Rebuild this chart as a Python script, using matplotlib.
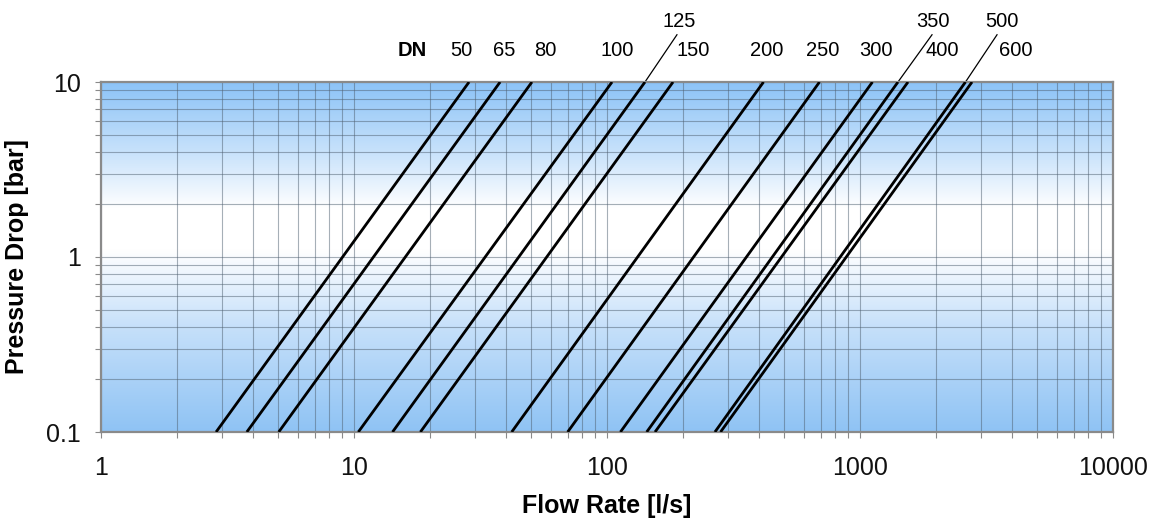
import numpy as np
import matplotlib.pyplot as plt
from matplotlib.colors import LinearSegmentedColormap
from matplotlib.ticker import FixedLocator, FixedFormatter, NullFormatter, LogLocator

plt.rcParams['font.family'] = ['Liberation Sans', 'DejaVu Sans']

# DN sizes and where each line crosses 0.1 bar and 10 bar (flow in l/s)
dn_sizes = ['50', '65', '80', '100', '125', '150', '200', '250', '300', '350', '400', '500', '600']
flow_at_min_dp = [2.85, 3.77, 5.04, 10.4, 14.2, 18.3, 42.0, 69.9, 113, 143.5, 154.8, 267, 281]
flow_at_max_dp = [28.5, 37.8, 50.5, 104.7, 141.3, 182.4, 415.6, 691.8, 1120, 1413, 1548, 2612, 2772]
dp_range = [0.1, 10]

# label placement (x in l/s), upper-row labels get a leader line
label_x = [26.5, 39.2, 56.9, 109.6, 192.6, 218.8, 429, 714, 1157, 1944, 2110, 3640, 4138]
upper_row = ['125', '350', '500']
leader_x = {'125': 189, '350': 1926, '500': 3480}

x_ticks = [1, 10, 100, 1000, 10000]
y_ticks = [0.1, 1, 10]

W, H = 1157, 528
fig = plt.figure(figsize=(W / 100, H / 100), dpi=100)
pos = [101 / W, 96 / H, 1012 / W, 350 / H]

# background gradient: blue top, white just above middle, blue bottom
bg = fig.add_axes(pos, zorder=0)
cmap = LinearSegmentedColormap.from_list(
    'bg', [(0.0, '#8fc3f4'), (0.3, '#c6e0fa'), (0.52, '#ffffff'),
           (0.64, '#ffffff'), (0.8, '#c8e2fb'), (1.0, '#8cc3f7')])
grad = np.linspace(0, 1, 256).reshape(-1, 1)
bg.imshow(grad, extent=[0, 1, 0, 1], origin='lower', aspect='auto', cmap=cmap)
bg.axis('off')

ax = fig.add_axes(pos, zorder=1)
ax.patch.set_visible(False)
ax.set_xscale('log')
ax.set_yscale('log')

for lo, hi in zip(flow_at_min_dp, flow_at_max_dp):
    ax.plot([lo, hi], dp_range, color='black', lw=2.0, solid_capstyle='butt', zorder=3)

ax.set_xlim(1, 10000)
ax.set_ylim(0.1, 10)

ax.xaxis.set_major_locator(FixedLocator(x_ticks))
ax.xaxis.set_major_formatter(FixedFormatter([f'{v:g}' for v in x_ticks]))
ax.yaxis.set_major_locator(FixedLocator(y_ticks))
ax.yaxis.set_major_formatter(FixedFormatter([f'{v:g}' for v in y_ticks]))
for axis in (ax.xaxis, ax.yaxis):
    axis.set_minor_locator(LogLocator(base=10, subs=np.arange(2, 10)))
    axis.set_minor_formatter(NullFormatter())

ax.grid(which='both', color='#4f6070', alpha=0.5, lw=0.8, zorder=1)
ax.tick_params(which='both', direction='out', length=4.5, width=0.8, color='#8a8a8a')
ax.tick_params(axis='x', which='major', labelsize=18, labelcolor='#111111', pad=13)
ax.tick_params(axis='y', which='major', labelsize=18, labelcolor='#111111', pad=10)
for s in ax.spines.values():
    s.set_color('#8a8a8a')
    s.set_linewidth(1.6)

ax.set_xlabel('Flow Rate [l/s]', fontsize=18, fontweight='bold', labelpad=10)
ax.set_ylabel('Pressure Drop [bar]', fontsize=18, fontweight='bold', labelpad=12)

# DN labels above the plot
tr = ax.get_xaxis_transform()
ax.text(17, 1.0914, 'DN', transform=tr, ha='center', va='center',
        fontsize=14.5, fontweight='bold')
for name, lx, hi in zip(dn_sizes, label_x, flow_at_max_dp):
    if name in upper_row:
        ax.text(lx, 1.174, name, transform=tr, ha='center', va='center', fontsize=14.5)
        ax.plot([hi, leader_x[name]], [1.0, 1.135], transform=tr, color='black',
                lw=0.9, clip_on=False)
    else:
        ax.text(lx, 1.0914, name, transform=tr, ha='center', va='center', fontsize=14.5)

plt.savefig('out.png', dpi=100)
